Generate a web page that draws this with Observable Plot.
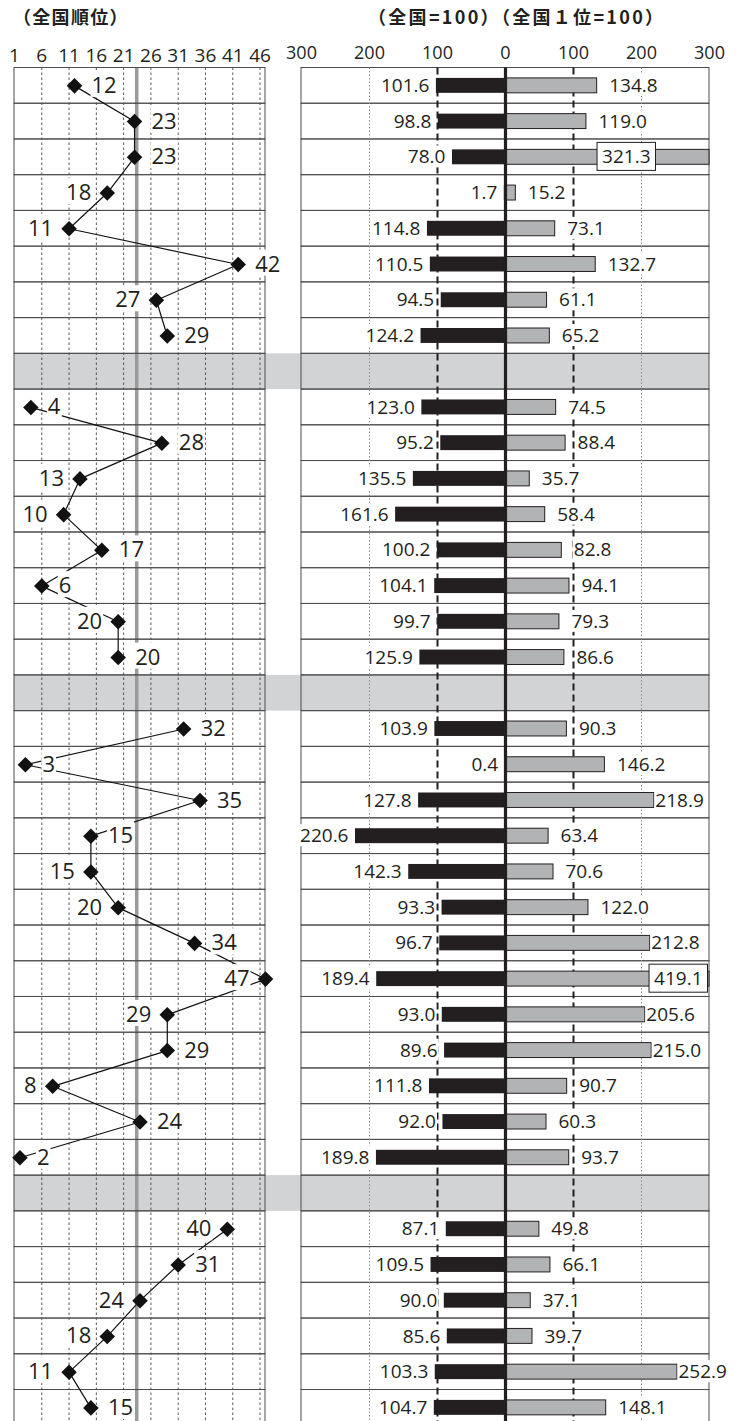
<!DOCTYPE html>
<html><head><meta charset="utf-8">
<script src="https://cdn.jsdelivr.net/npm/d3@7"></script>
<script src="https://cdn.jsdelivr.net/npm/@observablehq/plot@0.6"></script>
<style>
body{margin:0;background:#fff;}
#wrap{position:relative;width:737px;height:1421px;overflow:hidden;background:#fff;}
.title{position:absolute;font-family:"Noto Sans CJK JP";font-weight:700;font-size:18px;line-height:1;white-space:nowrap;color:#231f20;}
#left,#right{position:absolute;top:0;}
#left{left:0px;}
#right{left:280px;}
</style></head><body>
<div id="wrap">
  <div class="title" style="left:13px;top:7px;letter-spacing:1.3px">（全国順位）</div>
  <div class="title" style="left:368px;top:7px;letter-spacing:2.3px">（全国=100）（全国１位=100）</div>
  <div id="left"></div>
  <div id="right"></div>
</div>
<script>
// ---- data ----
const groupSizes = [8, 8, 13, 6];
const ranks = [12, 23, 23, 18, 11, 42, 27, 29,
               4, 28, 13, 10, 17, 6, 20, 20,
               32, 3, 35, 15, 15, 20, 34, 47, 29, 29, 8, 24, 2,
               40, 31, 24, 18, 11, 15];
const nationalIndex = [101.6, 98.8, 78.0, 1.7, 114.8, 110.5, 94.5, 124.2,
                       123.0, 95.2, 135.5, 161.6, 100.2, 104.1, 99.7, 125.9,
                       103.9, 0.4, 127.8, 220.6, 142.3, 93.3, 96.7, 189.4, 93.0, 89.6, 111.8, 92.0, 189.8,
                       87.1, 109.5, 90.0, 85.6, 103.3, 104.7];
const topIndex = [134.8, 119.0, 321.3, 15.2, 73.1, 132.7, 61.1, 65.2,
                  74.5, 88.4, 35.7, 58.4, 82.8, 94.1, 79.3, 86.6,
                  90.3, 146.2, 218.9, 63.4, 70.6, 122.0, 212.8, 419.1, 205.6, 215.0, 90.7, 60.3, 93.7,
                  49.8, 66.1, 37.1, 39.7, 252.9, 148.1];
const rankLabelSide = ["r","r","r","l","l","r","l","r",
                       "r","r","l","l","r","r","l","r",
                       "r","r","r","r","l","l","r","l","l","r","l","r","r",
                       "l","r","l","l","l","r"];
const rankTicks = [1, 6, 11, 16, 21, 26, 31, 36, 41, 46];
const valueTicks = [-300, -200, -100, 0, 100, 200, 300];
const rankReference = 23.4;

// ---- layout ----
const rows = [], sepRows = [];
let nRows = 0;
{
  let r = 0, k = 0;
  groupSizes.forEach((n, g) => {
    for (let i = 0; i < n; i++, k++, r++) {
      rows.push({row: r, group: g, rank: ranks[k], nat: nationalIndex[k], top: topIndex[k], side: rankLabelSide[k]});
    }
    if (g < groupSizes.length - 1) { sepRows.push(r); r++; }
  });
  nRows = r;
}
const allRows = d3.range(nRows);
const TOP = 67.5, STEP = 35.73;
const yEnd = TOP + nRows * STEP;
const H = 1430;
const yOpt = {domain: [0, nRows], range: [TOP, yEnd], axis: null};
const INK = "#231f20";
const NUM = "Open Sans";
const BAR_INSET = 10.4;
const yc = d => d.row + 0.5;

const leftPlot = Plot.plot({
  width: 301, height: H,
  marginLeft: 14, marginRight: 0, marginTop: TOP, marginBottom: H - yEnd,
  style: {fontFamily: NUM, background: "transparent", overflow: "visible"},
  x: {domain: [1, 47], range: [14, 265], axis: null},
  y: yOpt,
  marks: [
    Plot.rect(sepRows, {y1: d => d, y2: d => d + 1, fill: "#d1d3d4"}),
    Plot.ruleX(rankTicks.slice(1), {stroke: "#444", strokeWidth: 0.9, strokeDasharray: "2.5,2.5"}),
    Plot.ruleX([rankReference], {stroke: "#9a9a9a", strokeWidth: 3.5}),
    Plot.rect(allRows, {x1: () => 1, x2: () => 47, y1: d => d, y2: d => d + 1, fill: "none", stroke: "#4d4d4d", strokeWidth: 1}),
    Plot.line(rows, {x: "rank", y: yc, z: "group", stroke: "#111", strokeWidth: 1.2}),
    Plot.dot(rows, {x: "rank", y: yc, symbol: "diamond2", r: 7, fill: "#111", stroke: "none"}),
    Plot.text(rows.filter(d => d.side === "r"), {x: "rank", y: yc, text: d => String(d.rank), textAnchor: "start", dx: 17, fontSize: 22, fill: INK}),
    Plot.text(rows.filter(d => d.side === "l"), {x: "rank", y: yc, text: d => String(d.rank), textAnchor: "end", dx: -16, fontSize: 22, fill: INK}),
    Plot.text(rankTicks, {x: d => d, text: d => String(d), frameAnchor: "top", dy: -20, fontSize: 19, fill: INK})
  ]
});

const clipped = rows.filter(d => d.top > 300);
const big = rows.filter(d => d.top >= 200 && d.top <= 300);
const normal = rows.filter(d => d.top < 200);
const boxedDx = [-59, -7];
const boxedText = new Set(clipped.map(d => d.top.toFixed(1)));

const rightPlot = Plot.plot({
  width: 457, height: H,
  marginLeft: 21, marginRight: 28, marginTop: TOP, marginBottom: H - yEnd,
  style: {fontFamily: NUM, background: "transparent", overflow: "visible"},
  x: {domain: [-300, 300], range: [21, 429], clamp: true, axis: null},
  y: yOpt,
  marks: [
    Plot.rect(sepRows, {y1: d => d, y2: d => d + 1, fill: "#d1d3d4"}),
    Plot.rect(allRows, {x1: () => -300, x2: () => 300, y1: d => d, y2: d => d + 1, fill: "none", stroke: "#4d4d4d", strokeWidth: 1}),
    Plot.ruleX([-200, 200], {stroke: "#8a8a8a", strokeWidth: 1, strokeDasharray: "1.5,2"}),
    Plot.ruleX([-100, 100], {stroke: INK, strokeWidth: 2, strokeDasharray: "7,4"}),
    Plot.rect(rows, {x1: () => 0, x2: d => -d.nat, y1: d => d.row, y2: d => d.row + 1, insetTop: BAR_INSET, insetBottom: BAR_INSET, fill: INK}),
    Plot.rect(rows, {x1: () => 0, x2: d => d.top, y1: d => d.row, y2: d => d.row + 1, insetTop: BAR_INSET, insetBottom: BAR_INSET, fill: "#b2b3b5", stroke: INK, strokeWidth: 1}),
    Plot.ruleX([0], {stroke: INK, strokeWidth: 3.2}),
    Plot.text(rows, {x: d => -d.nat, y: yc, text: d => d.nat.toFixed(1), textAnchor: "end", dx: -7, fontSize: 19, fill: INK}),
    Plot.text(normal, {x: d => d.top, y: yc, text: d => d.top.toFixed(1), textAnchor: "start", dx: 12, fontSize: 19, fill: INK}),
    Plot.text(big, {x: d => d.top, y: yc, text: d => d.top.toFixed(1), textAnchor: "start", dx: 1, fontSize: 19, fill: INK}),
    ...clipped.map((d, i) => Plot.text([d], {x: d => d.top, y: yc, text: d => d.top.toFixed(1), textAnchor: "end", dx: boxedDx[i] ?? -7, fontSize: 19, fill: INK})),
    Plot.text(valueTicks, {x: d => d, text: d => String(Math.abs(d)), frameAnchor: "top", dy: -22, fontSize: 18, fill: INK})
  ]
});

document.getElementById("left").appendChild(leftPlot);
document.getElementById("right").appendChild(rightPlot);

// white label boxes (as in the original), outlined for clipped-bar labels
function boxLabels(svg, isOutlined) {
  d3.select(svg).selectAll("text").each(function() {
    if (this.closest("g") === null) return;
    const b = this.getBBox();
    if (!b.width) return;
    const outlined = isOutlined(this.textContent);
    const padX = outlined ? 5 : 1, padY = outlined ? 1 : -2;
    d3.select(this.parentNode).insert("rect", () => this)
      .attr("x", b.x - padX).attr("y", b.y - padY)
      .attr("width", b.width + 2 * padX).attr("height", b.height + 2 * padY)
      .attr("transform", this.getAttribute("transform"))
      .attr("fill", "white")
      .attr("stroke", outlined ? INK : "none").attr("stroke-width", 1);
  });
}
boxLabels(leftPlot, () => false);
boxLabels(rightPlot, t => boxedText.has(t));
</script>
</body></html>
